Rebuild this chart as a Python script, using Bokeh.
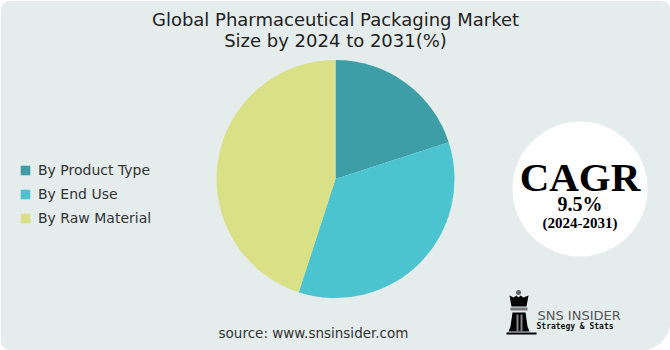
import math
from bokeh.plotting import figure
from bokeh.models import Range1d, ColumnDataSource, BoxAnnotation
from bokeh.core.properties import value
from bokeh.embed import file_html
from bokeh.resources import INLINE

# ---- data ----
segments = ["By Product Type", "By End Use", "By Raw Material"]
shares = [20, 35, 45]
colors = ["#3d9ea8", "#4bc4d0", "#d9e085"]
title_lines = ["Global Pharmaceutical Packaging Market", "Size by 2024 to 2031(%)"]
cagr_value = "9.5%"
cagr_period = "(2024-2031)"
source_text = "source: www.snsinsider.com"

W, H = 670, 350
BG = "#e4ecec"

p = figure(width=W, height=H, x_range=Range1d(0, W), y_range=Range1d(0, H),
           min_border=0, toolbar_location=None, output_backend="svg")
p.axis.visible = False
p.grid.visible = False
p.outline_line_color = None
p.background_fill_color = "white"
p.border_fill_color = "white"

# panel background with rounded corners
p.add_layout(BoxAnnotation(left=0, right=W, bottom=0, top=H, fill_color=BG, fill_alpha=1,
                           line_color=None, border_radius=(10, 10, 30, 10), level="underlay"))

# ---- pie ----
total = sum(shares)
starts, ends = [], []
cum = 0
for v in shares:
    starts.append(math.pi / 2 - 2 * math.pi * cum / total)
    cum += v
    ends.append(math.pi / 2 - 2 * math.pi * cum / total)
src = ColumnDataSource(dict(label=segments, value=shares, start=starts, end=ends, color=colors))
cx, cy, r = 335, H - 178.5, 119
p.wedge(x=cx, y=cy, radius=r, start_angle="start", end_angle="end", direction="clock",
        fill_color="color", line_color=None, legend_field="label", source=src)

leg = p.legend[0]
leg.location = (19, 124)
leg.background_fill_alpha = 0
leg.border_line_alpha = 0
leg.padding = 0
leg.margin = 0
leg.spacing = 8
leg.glyph_width = 12
leg.glyph_height = 12
leg.label_height = 12
leg.label_standoff = 7
leg.label_text_font = "DejaVu Sans"
leg.label_text_font_size = "14px"
leg.label_text_color = "#333333"

# ---- title ----
p.text(x=[W / 2, W / 2], y=[H - 19, H - 40], text=title_lines, text_align="center",
       text_baseline="middle", text_font=value("DejaVu Sans"), text_font_size="18px",
       text_color="#222222")

# ---- CAGR badge ----
bx, by = 579.5, H - 188.5
p.circle(x=[bx], y=[by], radius=67.5, fill_color="white", line_color=None)
p.text(x=[bx], y=[H - 176], text=["CAGR"], text_align="center", text_baseline="middle",
       text_font=value("Liberation Serif"), text_font_style="bold", text_font_size="41px",
       text_color="black")
p.text(x=[bx], y=[H - 203], text=[cagr_value], text_align="center", text_baseline="middle",
       text_font=value("Liberation Serif"), text_font_style="bold", text_font_size="20px",
       text_color="black")
p.text(x=[bx], y=[H - 222], text=[cagr_period], text_align="center", text_baseline="middle",
       text_font=value("Liberation Serif"), text_font_style="bold", text_font_size="15px",
       text_color="black")

# ---- logo ----
def Y(v):
    return H - v
p.circle(x=[518], y=[Y(292)], radius=2.5, fill_color="#666666", line_color=None)
p.patch(x=[509, 513, 516, 518, 520, 523, 528, 526, 511],
        y=[Y(295), Y(297), Y(295), Y(297), Y(295), Y(297), Y(295), Y(306), Y(306)],
        fill_color="black", line_color=None)
p.quad(left=[510], right=[527], bottom=[Y(310)], top=[Y(307)], fill_color="#777777", line_color=None)
p.patch(x=[512, 525, 527, 529, 508, 510], y=[Y(312), Y(312), Y(326), Y(331), Y(331), Y(326)],
        fill_color="black", line_color=None)
p.quad(left=[516, 520], right=[518, 522], bottom=[Y(331), Y(331)], top=[Y(314), Y(314)],
       fill_color="#888888", line_color=None)
p.quad(left=[506], right=[536], bottom=[Y(334)], top=[Y(332)], fill_color="black", line_color=None)
p.text(x=[537], y=[Y(315)], text=["SNS INSIDER"], text_align="left", text_baseline="middle",
       text_font=value("DejaVu Sans"), text_font_size="13px", text_color="#555555")
p.text(x=[536], y=[Y(326)], text=["Strategy & Stats"], text_align="left",
       text_baseline="middle", text_font=value("DejaVu Sans Mono"), text_font_style="bold",
       text_font_size="8px", text_color="#111111")

# ---- source ----
p.text(x=[313], y=[Y(332)], text=[source_text], text_align="center", text_baseline="middle",
       text_font=value("DejaVu Sans"), text_font_size="13.5px", text_color="#333333")

open("out.html", "w").write(file_html(p, INLINE))
